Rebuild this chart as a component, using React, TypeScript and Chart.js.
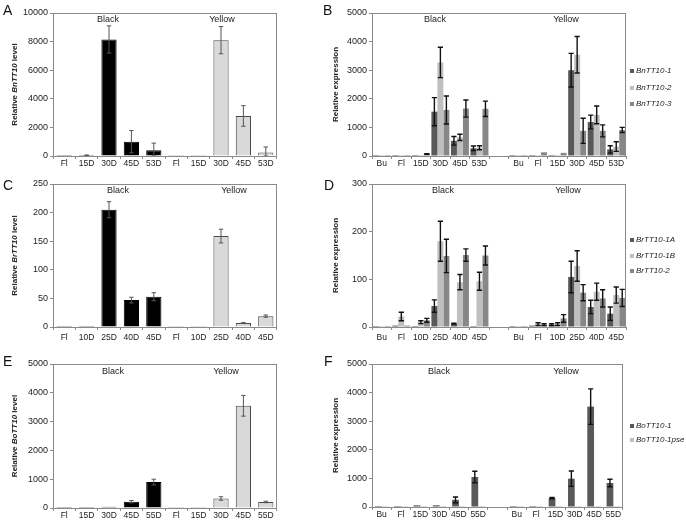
import React, { useEffect, useRef } from 'react';
import { Chart, registerables } from 'chart.js';
Chart.register(...registerables);

const FONT = '"Liberation Sans", Arial, sans-serif';
const DARK = '#595959';
const LIGHT = '#bfbfbf';
const MID = '#878787';

// ---------- Panel A (BnTT10, qRT) ----------
const catsA = ['Fl', '15D', '30D', '45D', '53D', 'Fl', '15D', '30D', '45D', '53D'];
const blackA = [10, 50, 8150, 1000, 400];
const errBlackA = [0, 20, 950, 780, 500];
const yellowA = [20, 15, 8100, 2800, 250];
const errYellowA = [0, 0, 950, 720, 380];

// ---------- Panel B ----------
const catsB = ['Bu', 'Fl', '15D', '30D', '45D', '53D', '', 'Bu', 'Fl', '15D', '30D', '45D', '53D'];
const bn1 = [10, 15, 30, 1550, 530, 270, null, 10, 10, 20, 3000, 1190, 230];
const bn1Err = [0, 0, 0, 490, 150, 80, null, 0, 0, 0, 590, 240, 130];
const bn2 = [5, 10, 20, 3270, 650, 290, null, 20, 20, 40, 3540, 1440, 330];
const bn2Err = [0, 0, 0, 530, 110, 70, null, 0, 0, 0, 640, 310, 170];
const bn3 = [10, 20, 70, 1610, 1660, 1650, null, 30, 130, 110, 880, 880, 910];
const bn3Err = [0, 0, 10, 490, 300, 270, null, 0, 0, 0, 440, 210, 90];

// ---------- Panel C ----------
const catsC = ['Fl', '10D', '25D', '40D', '45D', 'Fl', '10D', '25D', '40D', '45D'];
const blackC = [1, 1, 205, 47, 53];
const errBlackC = [0, 0, 14, 5, 7];
const yellowC = [1, 1, 159, 7, 19];
const errYellowC = [0, 0, 12, 1, 2];

// ---------- Panel D ----------
const catsD = ['Bu', 'Fl', '10D', '25D', '40D', '45D', '', 'Bu', 'Fl', '10D', '25D', '40D', '45D'];
const br1A = [1, 3, 2, 44, 7, 2, null, 2, 3, 5, 105, 42, 28];
const br1AErr = [0, 0, 0, 13, 1, 0, null, 0, 0, 2, 33, 14, 14];
const br1B = [1, 22, 10, 180, 94, 96, null, 0.5, 6, 6, 128, 74, 67];
const br1BErr = [0, 9, 3, 42, 16, 19, null, 0, 3, 3, 32, 18, 17];
const br2 = [1, 3, 14, 149, 151, 150, null, 1, 5, 18, 72, 60, 61];
const br2Err = [0, 0, 4, 35, 13, 20, null, 0, 2, 8, 17, 18, 18];

// ---------- Panel E ----------
const catsE = ['Fl', '15D', '30D', '45D', '55D', 'Fl', '15D', '30D', '45D', '55D'];
const blackE = [5, 5, 40, 220, 900];
const errBlackE = [0, 0, 0, 40, 100];
const yellowE = [10, 10, 330, 3550, 210];
const errYellowE = [0, 0, 60, 360, 25];

// ---------- Panel F ----------
const catsF = ['Bu', 'Fl', '15D', '30D', '45D', '55D', '', 'Bu', 'Fl', '15D', '30D', '45D', '55D'];
const bo1 = [20, 20, 60, 60, 250, 1050, null, 15, 15, 310, 990, 3510, 840];
const bo1Err = [0, 0, 0, 0, 100, 200, null, 0, 0, 20, 270, 620, 130];
const bo1pse = [20, 20, 0, 0, 0, 0, null, 20, 15, 0, 0, 0, 0];
const bo1pseErr = [0, 0, 0, 0, 0, 0, null, 0, 0, 0, 0, 0, 0];

type Seg = { t: string; i?: boolean };
interface Panel {
  letter: string;
  lx: number; ly: number;
  x: number; y: number; w: number; h: number;
  left: number; right: number; top: number; bottom: number;
  labels: string[];
  datasets: any[];
  yMax: number; yStep: number;
  title: Seg[]; titleX: number;
  groups: { t: string; x: number; y: number }[];
  legend?: { x: number; ys: number[] };
  multi: boolean;
  xPad: number;
}

function twoGroup(black: number[], yellow: number[], eb: number[], ey: number[]) {
  const data = [...black, ...yellow];
  return [{
    label: 'level',
    data,
    errors: [...eb, ...ey],
    backgroundColor: data.map((_, i) => (i < black.length ? '#000000' : '#d9d9d9')),
    borderColor: data.map((_, i) => (i < black.length ? '#000000' : '#4a4a4a')),
    borderWidth: 1,
    minBarLength: 1,
    barPercentage: 0.68,
    categoryPercentage: 1,
  }];
}

function series(label: string, data: any[], errors: any[], color: string, catPct: number) {
  return { label, data, errors, backgroundColor: color, borderWidth: 0, minBarLength: 1, barPercentage: 1, categoryPercentage: catPct };
}

const panels: Panel[] = [
  {
    letter: 'A', lx: 3, ly: 3,
    x: 0, y: 0, w: 325, h: 175, left: 53, right: 277, top: 13, bottom: 156,
    labels: catsA, datasets: twoGroup(blackA, yellowA, errBlackA, errYellowA),
    yMax: 10000, yStep: 2000,
    title: [{ t: 'Relative ' }, { t: 'BnTT10', i: true }, { t: ' level' }], titleX: 15,
    groups: [{ t: 'Black', x: 108, y: 22 }, { t: 'Yellow', x: 222, y: 22 }],
    multi: false, xPad: 0,
  },
  {
    letter: 'B', lx: 323, ly: 3,
    x: 325, y: 0, w: 361, h: 175, left: 47, right: 301, top: 13, bottom: 156,
    labels: catsB,
    datasets: [
      series('BnTT10-1', bn1, bn1Err, DARK, 0.92),
      series('BnTT10-2', bn2, bn2Err, LIGHT, 0.92),
      series('BnTT10-3', bn3, bn3Err, MID, 0.92),
    ],
    yMax: 5000, yStep: 1000,
    title: [{ t: 'Relative expression' }], titleX: 10.5,
    groups: [{ t: 'Black', x: 110, y: 22 }, { t: 'Yellow', x: 241, y: 22 }],
    legend: { x: 305, ys: [71, 88, 104] },
    multi: true, xPad: 0,
  },
  {
    letter: 'C', lx: 3, ly: 178,
    x: 0, y: 175, w: 325, h: 175, left: 53, right: 277, top: 9, bottom: 152,
    labels: catsC, datasets: twoGroup(blackC, yellowC, errBlackC, errYellowC),
    yMax: 250, yStep: 50,
    title: [{ t: 'Relative ' }, { t: 'BrTT10', i: true }, { t: ' level' }], titleX: 15,
    groups: [{ t: 'Black', x: 118, y: 18 }, { t: 'Yellow', x: 234, y: 18 }],
    multi: false, xPad: 3,
  },
  {
    letter: 'D', lx: 324, ly: 178,
    x: 325, y: 175, w: 361, h: 175, left: 47, right: 301, top: 9, bottom: 152,
    labels: catsD,
    datasets: [
      series('BrTT10-1A', br1A, br1AErr, DARK, 0.92),
      series('BrTT10-1B', br1B, br1BErr, LIGHT, 0.92),
      series('BrTT10-2', br2, br2Err, MID, 0.92),
    ],
    yMax: 300, yStep: 100,
    title: [{ t: 'Relative expression' }], titleX: 10.5,
    groups: [{ t: 'Black', x: 118, y: 18 }, { t: 'Yellow', x: 243, y: 18 }],
    legend: { x: 305, ys: [65, 81, 96] },
    multi: true, xPad: 3,
  },
  {
    letter: 'E', lx: 3, ly: 354,
    x: 0, y: 350, w: 325, h: 174, left: 53, right: 277, top: 14, bottom: 158,
    labels: catsE, datasets: twoGroup(blackE, yellowE, errBlackE, errYellowE),
    yMax: 5000, yStep: 1000,
    title: [{ t: 'Relative ' }, { t: 'BoTT10', i: true }, { t: ' level' }], titleX: 15,
    groups: [{ t: 'Black', x: 113, y: 24 }, { t: 'Yellow', x: 226, y: 24 }],
    multi: false, xPad: 0,
  },
  {
    letter: 'F', lx: 324, ly: 354,
    x: 325, y: 350, w: 361, h: 174, left: 47, right: 298, top: 14, bottom: 157,
    labels: catsF,
    datasets: [
      series('BoTT10-1', bo1, bo1Err, DARK, 0.7),
      series('BoTT10-1pse', bo1pse, bo1pseErr, LIGHT, 0.7),
    ],
    yMax: 5000, yStep: 1000,
    title: [{ t: 'Relative expression' }], titleX: 10.5,
    groups: [{ t: 'Black', x: 114, y: 24 }, { t: 'Yellow', x: 241, y: 24 }],
    legend: { x: 305, ys: [76, 90] },
    multi: true, xPad: 0,
  },
];

function makeDecor(p: Panel) {
  return {
    id: 'decor' + p.letter,
    afterDatasetsDraw(chart: any) {
      const ctx = chart.ctx;
      const ys = chart.scales.y;
      chart.data.datasets.forEach((ds: any, i: number) => {
        const errs = ds.errors;
        if (!errs) return;
        const meta = chart.getDatasetMeta(i);
        meta.data.forEach((el: any, j: number) => {
          const v = ds.data[j];
          const e = errs[j];
          if (v == null || !e) return;
          const x = el.x;
          const yt = ys.getPixelForValue(v + e);
          const yb = ys.getPixelForValue(Math.max(v - e, 0));
          ctx.save();
          ctx.strokeStyle = p.multi ? '#111' : '#555';
          ctx.lineWidth = p.multi ? 1.4 : 1;
          const cw = p.multi ? 2.6 : 2.2;
          ctx.beginPath();
          ctx.moveTo(x, yt); ctx.lineTo(x, yb);
          ctx.moveTo(x - cw, yt); ctx.lineTo(x + cw, yt);
          ctx.moveTo(x - cw, yb); ctx.lineTo(x + cw, yb);
          ctx.stroke();
          ctx.restore();
        });
      });
    },
    afterDraw(chart: any) {
      const ctx = chart.ctx;
      const ca = chart.chartArea;
      ctx.save();
      ctx.strokeStyle = '#8a8a8a';
      ctx.lineWidth = 1;
      ctx.strokeRect(Math.round(ca.left) + 0.5, Math.round(ca.top) + 0.5, Math.round(ca.right - ca.left) - 1, Math.round(ca.bottom - ca.top));
      ctx.fillStyle = '#222';
      ctx.font = `9px ${FONT}`;
      ctx.textAlign = 'center';
      ctx.textBaseline = 'alphabetic';
      p.groups.forEach((g) => ctx.fillText(g.t, g.x, g.y));
      const cy = (ca.top + ca.bottom) / 2;
      ctx.translate(p.titleX, cy);
      ctx.rotate(-Math.PI / 2);
      ctx.textAlign = 'left';
      ctx.textBaseline = 'middle';
      const fontOf = (s: Seg) => `${s.i ? 'italic ' : ''}bold 8px ${FONT}`;
      let total = 0;
      p.title.forEach((s) => { ctx.font = fontOf(s); total += ctx.measureText(s.t).width; });
      let cx = -total / 2;
      p.title.forEach((s) => { ctx.font = fontOf(s); ctx.fillText(s.t, cx, 0); cx += ctx.measureText(s.t).width; });
      ctx.restore();
      if (p.legend) {
        ctx.save();
        ctx.font = `italic 8px ${FONT}`;
        ctx.textBaseline = 'middle';
        ctx.textAlign = 'left';
        chart.data.datasets.forEach((ds: any, i: number) => {
          const yy = p.legend!.ys[i];
          ctx.fillStyle = ds.backgroundColor;
          ctx.fillRect(p.legend!.x, yy - 2, 4, 4);
          ctx.fillStyle = '#222';
          ctx.fillText(ds.label, p.legend!.x + 6, yy);
        });
        ctx.restore();
      }
    },
  };
}

function PanelChart({ p }: { p: Panel }) {
  const ref = useRef<HTMLCanvasElement>(null);
  useEffect(() => {
    if (!ref.current) return;
    const chart = new Chart(ref.current, {
      type: 'bar',
      data: { labels: p.labels, datasets: p.datasets },
      options: {
        animation: false,
        responsive: false,
        maintainAspectRatio: false,
        layout: { padding: { top: p.top, right: p.w - p.right, left: 0, bottom: 0 } },
        plugins: { legend: { display: false }, tooltip: { enabled: false } },
        scales: {
          x: {
            grid: { offset: true, drawOnChartArea: false, drawTicks: true, tickLength: 3, color: '#8a8a8a' },
            border: { display: false },
            ticks: { font: { family: FONT, size: 8.5 }, color: '#222', padding: p.xPad, maxRotation: 0, autoSkip: false },
            afterFit: (s: any) => { s.height = p.h - p.bottom; },
          },
          y: {
            min: 0, max: p.yMax,
            ticks: {
              stepSize: p.yStep, font: { family: FONT, size: 9 }, color: '#222', padding: 2,
              callback: (v: any) => String(v),
            },
            grid: { drawOnChartArea: false, drawTicks: true, tickLength: 3, color: '#8a8a8a' },
            border: { display: false },
            afterFit: (s: any) => { s.width = p.left; },
          },
        },
      } as any,
      plugins: [makeDecor(p)],
    });
    return () => chart.destroy();
  }, [p]);
  return (
    <canvas
      ref={ref}
      width={p.w}
      height={p.h}
      style={{ position: 'absolute', left: p.x, top: p.y, width: p.w, height: p.h }}
    />
  );
}

export default function App() {
  return (
    <div style={{ position: 'absolute', left: 0, top: 0, width: 686, height: 524, background: '#fff', overflow: 'hidden' }}>
      {panels.map((p) => (
        <PanelChart key={p.letter} p={p} />
      ))}
      {panels.map((p) => (
        <div
          key={'L' + p.letter}
          style={{ position: 'absolute', left: p.lx, top: p.ly, fontFamily: FONT, fontSize: 14, lineHeight: '14px', color: '#111' }}
        >
          {p.letter}
        </div>
      ))}
    </div>
  );
}
